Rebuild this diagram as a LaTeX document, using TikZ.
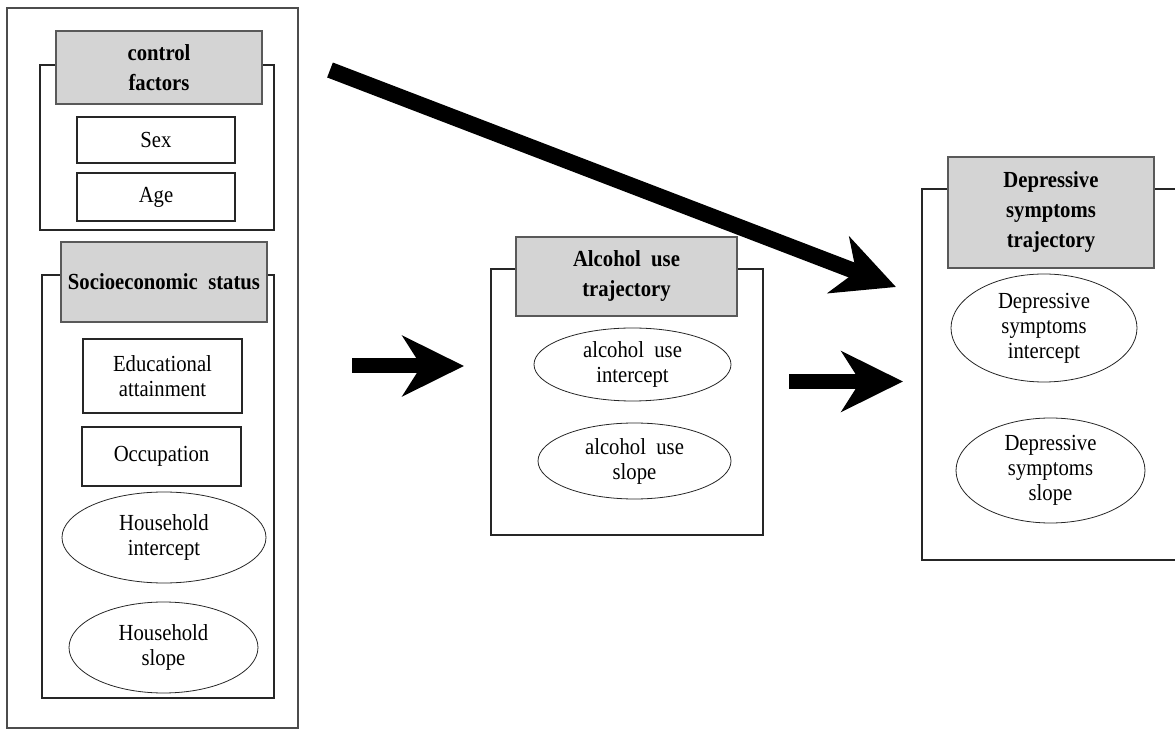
\documentclass[tikz,border=0pt]{standalone}
\usepackage{fontspec}
\setmainfont{Liberation Serif}[FakeStretch=0.9]
\usetikzlibrary{shapes.geometric,arrows.meta}
\definecolor{hdrgray}{RGB}{212,212,212}

\begin{document}
\begin{tikzpicture}[x=0.75pt, y=-0.75pt,
    grp/.style={draw=black!85, line width=0.9pt},
    hdr/.style={draw=black!65, fill=hdrgray, line width=0.9pt, inner sep=0pt, align=center,
        font=\fontsize{17.25}{22.5}\selectfont\bfseries},
    itembox/.style={draw=black!85, line width=0.8pt, inner sep=0pt, align=center,
        font=\fontsize{17.25}{18.75}\selectfont},
    ovalnode/.style={itembox, ellipse, line width=0.6pt},
    bigarrow/.style={line width=11.25pt, -{Stealth[length=46pt,width=45pt,inset=14pt]}}]
    \useasboundingbox (0,0) rectangle (1175,730);
    \clip (0,0) rectangle (1175,730);

    % left column
    \draw[grp, draw=black!70] (7,8) rectangle (298,728);
    \draw[grp] (40,65) rectangle (274,230);
    \node[hdr, minimum width=154.5pt, minimum height=54.75pt] (ctrl) at (159,67.5) {control\\factors};
    \node[itembox, minimum width=118.5pt, minimum height=34.5pt] (sex) at (156,140) {Sex};
    \node[itembox, minimum width=118.5pt, minimum height=36pt] (age) at (156,197) {Age};

    \draw[grp] (42,275) rectangle (274,698);
    \node[hdr, minimum width=154.5pt, minimum height=60pt] (ses) at (164,282) {Socioeconomic\ \ status};
    \node[itembox, minimum width=119.25pt, minimum height=55.5pt] (edu) at (162.5,376) {Educational\\attainment};
    \node[itembox, minimum width=119.25pt, minimum height=44.25pt] (occ) at (161.5,456.5) {Occupation};
    \node[ovalnode, minimum width=153pt, minimum height=68.25pt] (hhint) at (164,537.5) {Household\\intercept};
    \node[ovalnode, minimum width=141.75pt, minimum height=68.25pt] (hhslope) at (163.5,647.5) {Household\\slope};

    % alcohol use
    \draw[grp] (491,269) rectangle (763,535);
    \node[hdr, minimum width=165.75pt, minimum height=59.25pt] (alc) at (626.5,276.5) {Alcohol\ \ use\\trajectory};
    \node[ovalnode, minimum width=147.75pt, minimum height=54.75pt] (alcint) at (632.5,364.5) {alcohol\ \ use\\intercept};
    \node[ovalnode, minimum width=144.75pt, minimum height=57pt] (alcslope) at (634.5,461) {alcohol\ \ use\\slope};

    % depressive symptoms
    \draw[grp] (922,189) rectangle (1190,560);
    \node[hdr, minimum width=154.5pt, minimum height=83.25pt] (dep) at (1051,212.5) {Depressive\\symptoms\\trajectory};
    \node[ovalnode, minimum width=139.5pt, minimum height=81pt] (depint) at (1044,328) {Depressive\\symptoms\\intercept};
    \node[ovalnode, minimum width=141.75pt, minimum height=78.75pt] (depslope) at (1050.5,470.5) {Depressive\\symptoms\\slope};

    % arrows
    \coordinate (sesout) at (352,366);
    \coordinate (alcin) at (464,366);
    \coordinate (alcout) at (789,381.5);
    \coordinate (depin) at (903,381.5);
    \coordinate (ctrlout) at (330,70);
    \coordinate (deptop) at (896,287);
    \draw[bigarrow] (sesout) -- (alcin);
    \draw[bigarrow] (alcout) -- (depin);
    \draw[bigarrow, line width=12pt] (ctrlout) -- (deptop);
\end{tikzpicture}
\end{document}
